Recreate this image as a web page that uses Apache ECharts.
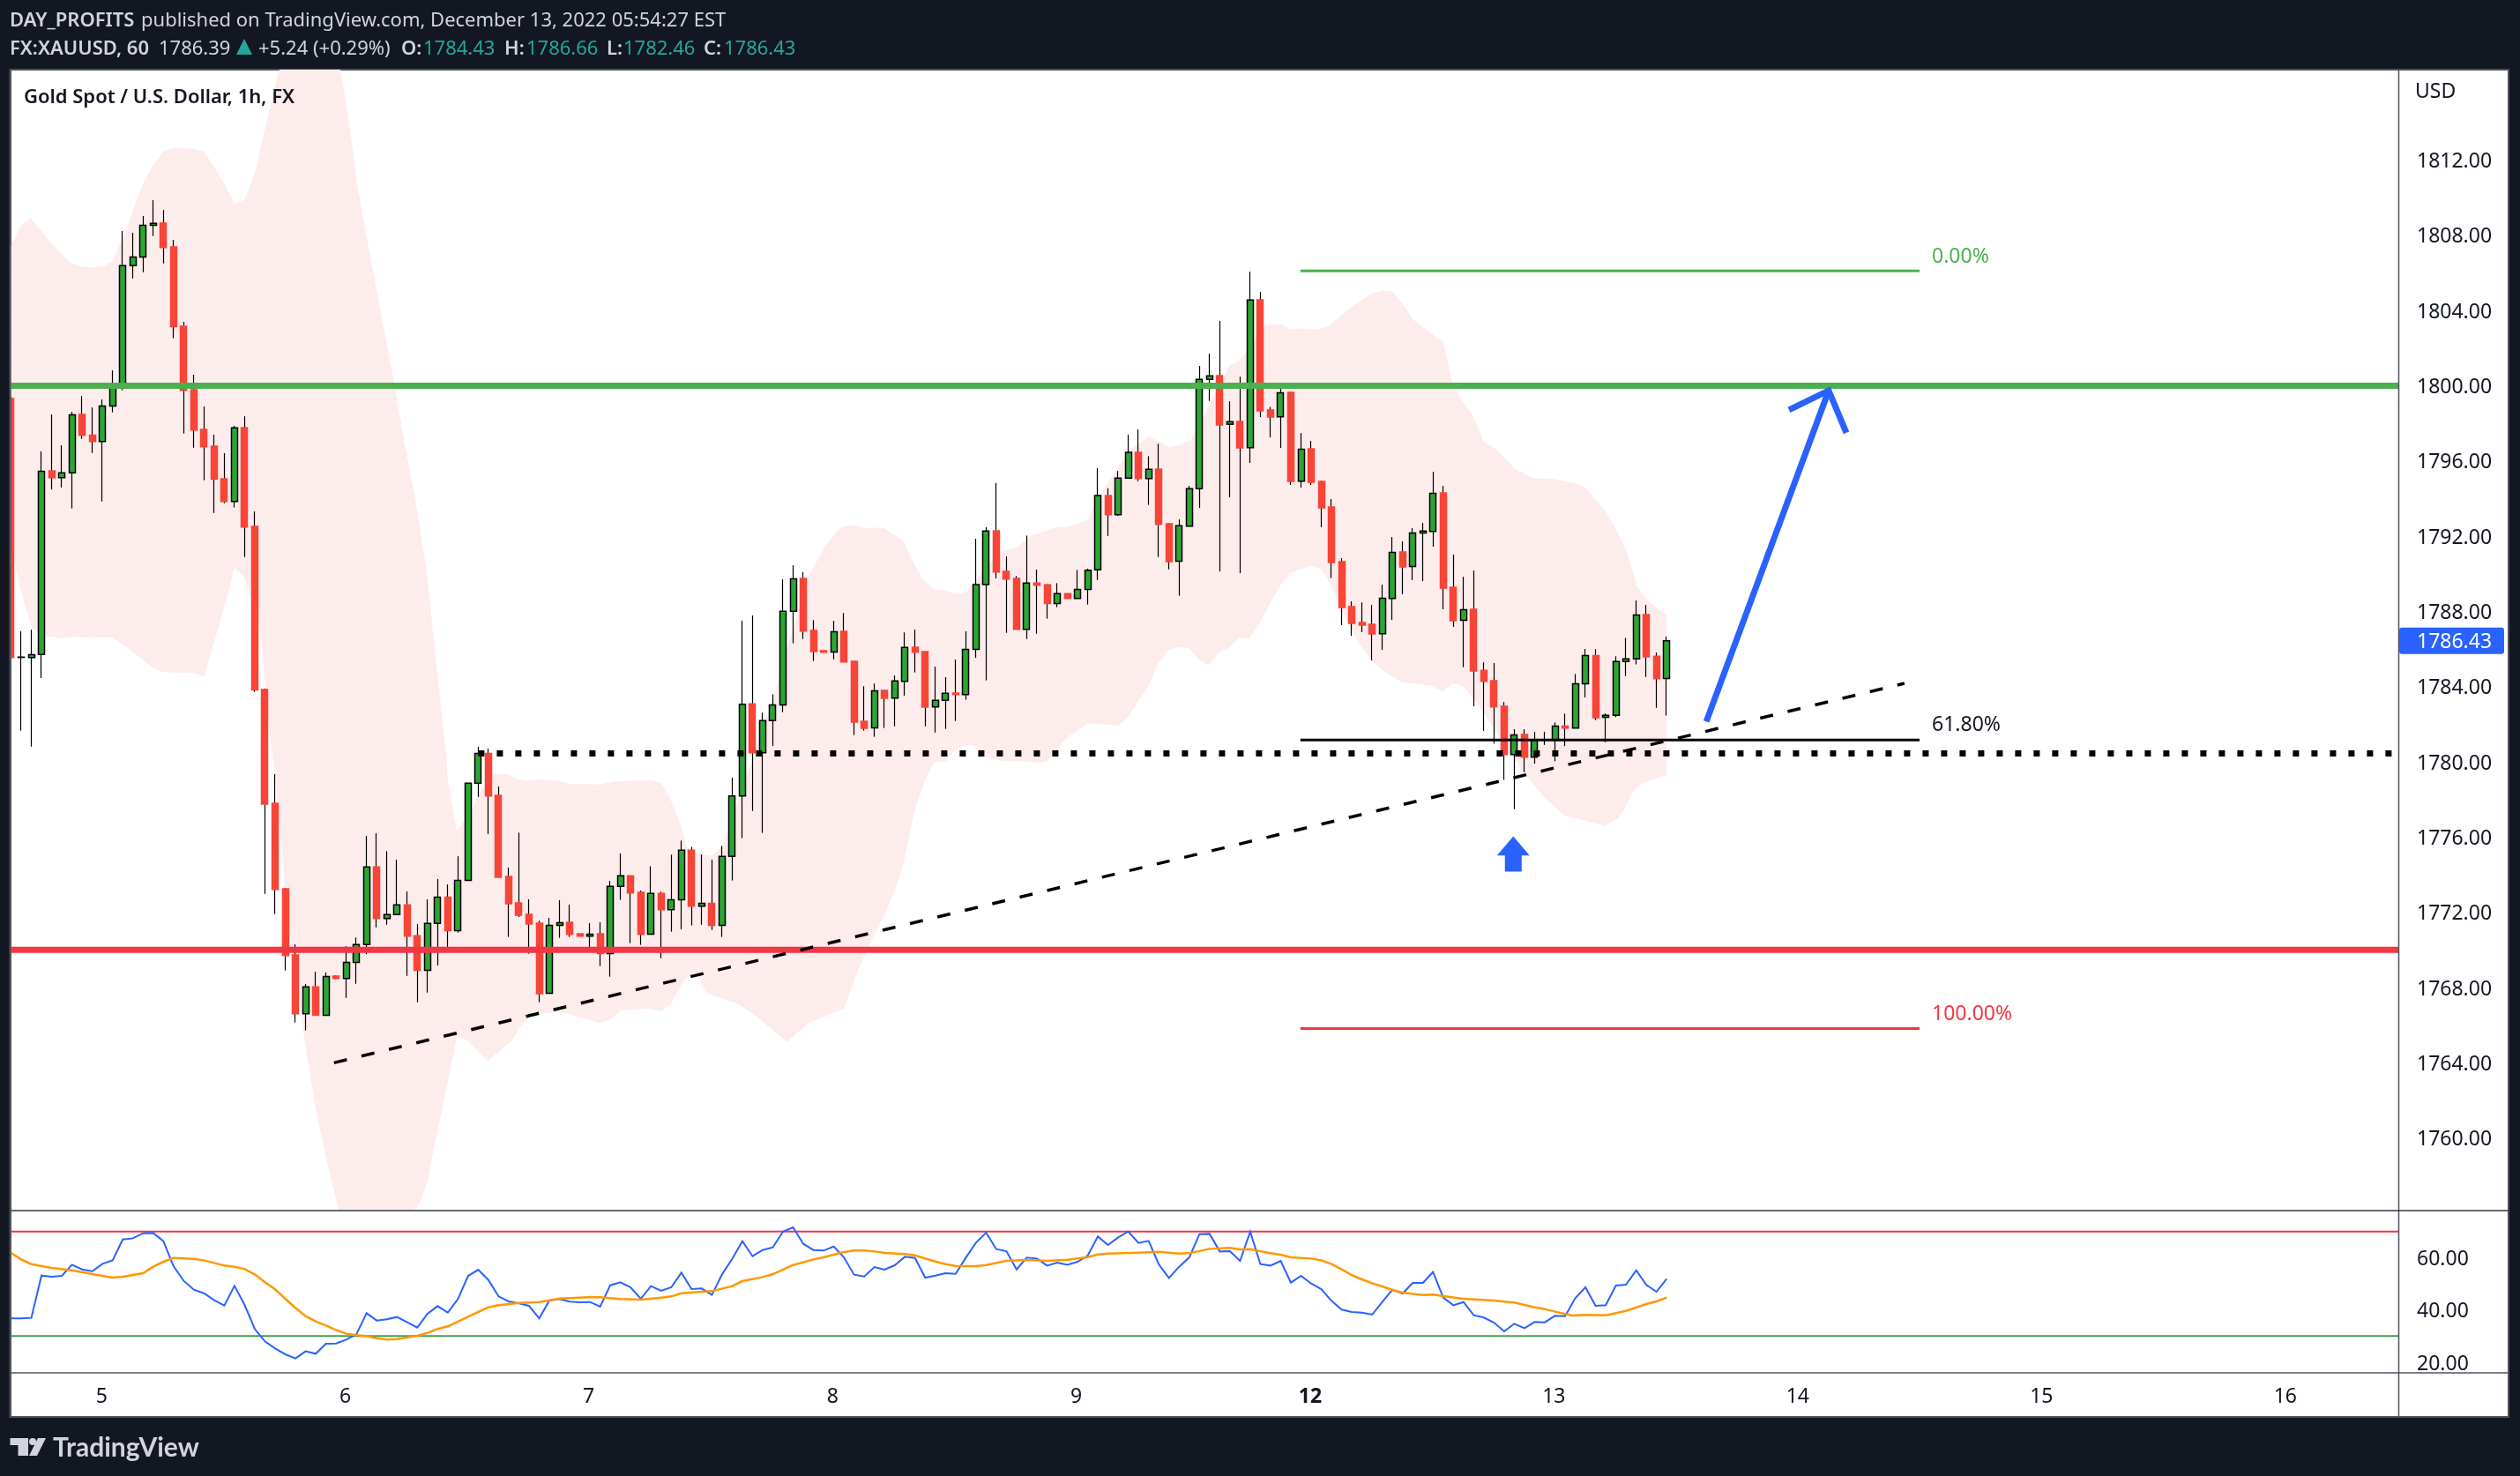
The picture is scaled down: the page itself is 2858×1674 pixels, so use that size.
<!DOCTYPE html>
<html><head><meta charset="utf-8">
<style>html,body{margin:0;padding:0;background:#131722}#c{width:2858px;height:1674px}</style>
<script src="https://cdn.jsdelivr.net/npm/echarts@6/dist/echarts.min.js"></script>
</head><body><div id="c"></div>
<script>
const opens=[
1799.31,1785.55,1785.55,1785.71,1795.47,1795.11,1795.36,1798.47,1797.37,1797.03,
1798.92,1800.00,1806.38,1806.84,1808.53,1808.64,1807.38,1803.16,1799.78,1797.67,
1796.78,1795.05,1793.84,1797.77,1792.52,1783.84,1777.80,1773.25,1769.73,1766.61,
1768.03,1766.52,1768.61,1768.48,1769.34,1770.28,1774.41,1771.67,1771.88,1772.39,
1770.75,1768.91,1771.41,1772.81,1771.02,1773.70,1778.86,1780.45,1778.22,1773.91,
1772.50,1771.89,1771.42,1767.69,1771.31,1771.47,1770.86,1770.73,1770.86,1769.80,
1773.38,1773.94,1773.06,1770.84,1773.00,1772.14,1772.67,1775.30,1772.33,1772.48,
1771.30,1774.97,1778.19,1783.08,1780.48,1782.19,1783.03,1788.00,1789.75,1786.98,
1785.91,1785.84,1786.94,1785.34,1782.16,1781.80,1783.80,1783.39,1784.28,1786.09,
1785.86,1782.92,1783.27,1783.66,1783.58,1785.98,1789.42,1792.28,1790.13,1789.75,
1787.05,1789.50,1789.41,1788.41,1788.94,1788.69,1789.16,1790.21,1794.16,1793.14,
1795.08,1796.45,1795.06,1795.56,1792.66,1790.66,1792.53,1794.52,1800.33,1800.53,
1797.94,1798.09,1796.70,1804.56,1798.70,1798.34,1799.64,1794.92,1796.64,1794.91,
1793.55,1790.64,1788.25,1787.41,1787.31,1786.81,1788.69,1791.16,1790.38,1792.17,
1792.25,1794.30,1789.28,1787.52,1788.11,1784.87,1784.31,1782.95,1780.39,1781.45,
1780.25,1781.15,1781.15,1781.90,1781.79,1784.15,1785.65,1782.37,1782.47,1785.33,
1785.47,1787.83,1785.61,1784.43];
const closes=[
1785.55,1785.57,1785.70,1795.45,1795.11,1795.36,1798.45,1797.36,1797.03,1798.92,
1800.00,1806.38,1806.84,1808.53,1808.63,1807.34,1803.13,1799.75,1797.64,1796.75,
1795.02,1793.84,1797.75,1792.48,1783.82,1777.75,1773.22,1769.70,1766.61,1768.03,
1766.52,1768.59,1768.48,1769.34,1770.28,1774.41,1771.67,1771.88,1772.39,1770.73,
1768.91,1771.41,1772.81,1771.02,1773.70,1778.86,1780.45,1778.19,1773.86,1772.45,
1771.84,1771.38,1767.67,1771.31,1771.45,1770.83,1770.73,1770.84,1769.80,1773.38,
1773.94,1773.03,1770.83,1773.00,1772.14,1772.67,1775.30,1772.33,1772.48,1771.30,
1774.97,1778.19,1783.06,1780.48,1782.19,1783.03,1788.00,1789.73,1786.95,1785.86,
1785.83,1786.92,1785.31,1782.11,1781.78,1783.78,1783.38,1784.30,1786.08,1785.83,
1782.91,1783.27,1783.64,1783.58,1785.98,1789.42,1792.27,1790.09,1789.72,1787.05,
1789.50,1789.39,1788.41,1788.94,1788.69,1789.16,1790.19,1794.16,1793.14,1795.08,
1796.45,1795.06,1795.55,1792.62,1790.64,1792.55,1794.52,1800.33,1800.52,1797.91,
1798.08,1796.69,1804.55,1798.66,1798.33,1799.62,1794.91,1796.62,1794.86,1793.50,
1790.59,1788.20,1787.36,1787.27,1786.80,1788.70,1791.14,1790.36,1792.17,1792.27,
1794.28,1789.23,1787.50,1788.09,1784.83,1784.28,1782.92,1780.39,1781.43,1780.25,
1781.15,1781.16,1781.90,1781.79,1784.15,1785.65,1782.34,1782.47,1785.33,1785.47,
1787.81,1785.58,1784.42,1786.43];
const lows=[
1785.50,1781.66,1780.81,1784.46,1794.48,1794.59,1793.47,1797.17,1796.42,1793.84,
1798.58,1799.75,1805.70,1806.03,1807.95,1806.50,1802.52,1797.45,1796.70,1794.97,
1793.23,1793.75,1793.52,1790.89,1783.72,1772.98,1771.91,1768.91,1766.14,1765.72,
1766.52,1766.52,1768.45,1767.45,1768.20,1769.77,1771.20,1771.34,1771.88,1768.62,
1767.22,1767.73,1769.17,1770.10,1770.92,1773.70,1778.13,1776.16,1773.86,1770.69,
1771.75,1769.80,1767.22,1767.69,1770.64,1770.69,1770.73,1770.16,1769.14,1768.58,
1772.66,1770.36,1770.27,1770.84,1769.56,1770.97,1771.09,1771.30,1771.34,1771.06,
1770.69,1773.69,1775.94,1777.39,1776.22,1780.84,1782.64,1786.30,1786.53,1785.36,
1785.83,1785.45,1785.31,1781.42,1781.66,1781.33,1781.80,1781.89,1783.52,1784.75,
1781.89,1781.56,1781.75,1782.17,1783.30,1785.53,1784.33,1789.75,1786.86,1787.05,
1786.53,1786.81,1787.61,1788.22,1788.69,1788.69,1788.36,1789.67,1792.01,1793.07,
1795.08,1794.92,1793.66,1790.89,1790.23,1788.83,1792.53,1793.50,1799.19,1790.12,
1794.06,1790.03,1795.89,1798.33,1797.25,1796.69,1794.72,1794.58,1794.72,1792.47,
1789.77,1787.27,1786.70,1786.89,1785.39,1785.95,1787.55,1788.91,1789.66,1789.61,
1791.44,1788.11,1787.17,1785.03,1782.95,1781.64,1780.97,1779.04,1777.48,1779.45,
1779.90,1780.90,1780.03,1780.84,1781.79,1783.42,1782.22,1781.04,1782.37,1784.56,
1785.18,1784.51,1782.87,1782.46];
const highs=[
1799.40,1786.94,1787.03,1796.50,1798.47,1796.83,1798.61,1799.45,1798.84,1799.27,
1800.81,1808.22,1808.13,1809.02,1809.86,1809.34,1807.75,1803.39,1800.58,1798.89,
1797.39,1796.41,1797.86,1798.37,1793.31,1783.90,1779.34,1773.28,1770.30,1768.19,
1768.84,1768.80,1768.65,1770.20,1770.66,1776.06,1776.20,1775.25,1774.80,1773.11,
1771.38,1772.69,1773.77,1773.48,1774.98,1778.86,1780.80,1780.70,1778.69,1774.38,
1776.23,1772.69,1771.56,1771.70,1772.64,1772.41,1770.86,1771.42,1771.47,1773.67,
1775.13,1773.96,1773.16,1774.45,1773.09,1775.06,1775.81,1775.48,1775.08,1774.80,
1775.53,1779.16,1787.50,1787.78,1782.61,1783.59,1789.70,1790.45,1790.08,1787.53,
1785.91,1787.50,1787.91,1785.34,1784.02,1784.16,1783.80,1784.59,1786.88,1787.03,
1785.86,1785.06,1784.50,1785.44,1786.94,1791.86,1792.48,1794.83,1790.92,1789.88,
1792.03,1790.22,1789.45,1789.50,1788.94,1790.20,1790.27,1795.61,1794.54,1795.46,
1797.39,1797.67,1796.25,1796.91,1792.70,1792.89,1794.67,1801.05,1801.70,1803.44,
1799.17,1800.48,1806.06,1804.98,1798.87,1799.84,1799.69,1797.48,1797.06,1794.95,
1793.97,1790.83,1788.53,1788.48,1788.34,1789.42,1791.95,1791.72,1792.42,1792.70,
1795.42,1794.67,1791.02,1789.84,1790.17,1785.29,1785.25,1783.18,1781.73,1781.73,
1781.59,1781.60,1782.09,1782.56,1784.67,1786.00,1786.00,1782.58,1785.61,1786.59,
1788.58,1788.34,1785.81,1786.66];

const bandUpperX=[0,1,1.9,3.9,5.75,7.1,8,9.2,10,11.55,12.9,13.9,15,16,17.9,19,20.2,21,22,23,24.1,25,25.8,26.4,27.5,29,30.5,31.5,32.45,33.1,34.1,35,35.75,36.8,37.7,38.9,39.7,40.9,41.55,42.1,42.85,43,43.9,45.35,45.94,47.35,48.1,48.9,49.8,50.85,52,53.9,55,57.9,59.7,62.9,64,65,66,66.5,68,69,70,70.4,75.2,78.3,80.1,81.4,81.9,83,84,85.9,87.8,88.8,89.8,90.9,91.9,92.9,94,97.2,99,100.6,103,104,106,107,110.1,112,113,114,115.1,116.2,120,121,123.5,125,126,127.2,128.8,129.8,132,134,135.1,136,137,138,140,141,141.9,142.7,144,145,146.1,148.1,149.8,151.9,154,155,155.9,157,158.2,159.2,160.1,161.2,163];
const bandUpper=[1807.45,1808.54,1808.92,1807.62,1806.56,1806.31,1806.28,1806.36,1806.61,1808.62,1810.63,1811.64,1812.47,1812.64,1812.59,1812.44,1811.47,1810.71,1809.68,1809.88,1811.47,1813.64,1815.49,1816.74,1820,1823.5,1822,1819,1816.74,1814.65,1810.63,1807.95,1805.78,1802.76,1800.17,1796.48,1794.26,1790.24,1786.89,1784.05,1780.36,1779.02,1776.33,1777.38,1778.16,1779.33,1779.36,1779.36,1779.09,1779.0,1779.06,1779.0,1778.83,1778.81,1778.97,1779.02,1778.91,1777.92,1776.52,1775.5,1775.08,1775.0,1775.5,1775.97,1783.71,1789.64,1791.44,1792.32,1792.52,1792.57,1792.43,1792.45,1791.78,1790.64,1789.67,1789.17,1789.13,1788.92,1789.0,1791.14,1791.4,1792.06,1792.48,1792.48,1792.87,1794.0,1796.58,1797.29,1797.04,1796.72,1796.84,1797.14,1801.1,1801.36,1803.2,1803.28,1803.0,1803.03,1802.98,1803.2,1804.2,1804.92,1805.07,1805.0,1804.37,1803.53,1802.7,1802.33,1800.18,1799.35,1798.34,1797.0,1796.67,1795.58,1795.08,1795.04,1794.83,1794.58,1793.99,1793.32,1792.15,1790.98,1789.3,1788.55,1787.76];
const bandLowerX=[0,0.4,1,2.1,3.4,5,6,7.9,10,12.1,13.9,15,17.9,19,21,22,23,23.7,24.4,25.4,26,26.7,27.1,27.7,28.1,28.9,30,31.55,32.3,33,36,39,39.6,40.15,41,41.6,43.2,43.9,44.9,46.9,49.3,50.3,51.3,53.9,55.3,57.9,58.95,60,61.1,62.9,64,65,66,66.6,67.5,68.5,71.7,73.3,75.3,76.4,78.5,82,83.4,84.7,85.9,87,87.9,88.9,89.9,90.9,92,92.9,93.9,94.8,95.8,97.8,99.9,101,102,102.8,103.9,106,108,109,110,110.9,111.7,112.3,112.9,113.9,114.9,115.95,117,117.9,118.8,120,120.9,121.9,122.9,124.9,125.9,127.9,129,130,131,132.7,134,135,137,137.8,139.8,140.9,141.9,142.9,143.8,144.9,146.2,149.3,150.9,152.9,154.9,156.8,158.2,158.8,159.8,160.8,162.9,163];
const bandLower=[1793,1790.58,1789,1787.06,1786.69,1786.56,1786.64,1786.61,1786.61,1785.8,1785.02,1784.77,1784.72,1784.55,1788.23,1790.32,1789.82,1788.57,1787.69,1781.75,1779.25,1775.19,1772.06,1770.19,1768.47,1765.19,1761.5,1757.68,1756.14,1755,1753,1755.2,1756.14,1756.43,1757.68,1759.4,1763.5,1765.4,1765.19,1764.1,1765.19,1766.05,1766.52,1766.72,1766.52,1766.12,1766.28,1766.75,1766.83,1766.87,1766.75,1767.14,1768.16,1768.62,1768.78,1767.7,1767.1,1766.5,1765.6,1765.1,1766.1,1766.9,1768.94,1770.5,1771.75,1773.16,1774.64,1777.3,1778.94,1779.98,1780.03,1780.58,1780.89,1780.89,1780.27,1780.03,1780.03,1779.95,1780.03,1780.58,1781.28,1782.03,1781.98,1781.91,1782.4,1783.16,1783.78,1784.41,1785.19,1785.89,1786.09,1786.05,1785.42,1785.14,1785.78,1786.12,1786.59,1786.53,1787.37,1789.33,1790.03,1790.42,1790.27,1789.33,1788.08,1786.29,1785.37,1784.87,1784.2,1784.17,1784.06,1783.73,1784.17,1784.06,1783.47,1782.68,1781.59,1779.17,1778.15,1777.14,1776.9,1776.59,1776.98,1777.45,1778.54,1778.9,1779.28,1779.28];

const rsiValues=[
36.74,36.74,36.97,53.15,52.7,53.03,57.3,55.5,54.83,57.64,
58.99,66.97,67.42,69.33,69.44,66.29,56.74,51.12,47.75,46.4,
43.7,41.69,49.21,41.91,32.7,27.98,25.28,23.03,21.46,24.16,
23.26,27.08,27.19,28.65,30.67,38.76,35.96,36.4,37.3,35.28,
33.26,38.54,41.46,38.99,44.16,53.03,55.39,51.46,45.17,43.26,
42.47,41.57,36.74,43.6,44.16,43.15,42.92,43.03,41.24,49.44,
50.56,48.65,44.27,49.1,47.3,48.65,54.27,47.98,48.2,45.73,
53.6,59.55,66.29,60.56,62.92,63.93,70,71.57,65.28,62.92,
62.7,64.27,60.11,53.48,52.81,56.4,55.39,57.08,60.34,59.89,
52.36,53.15,54.04,53.82,60,65.73,69.55,63.26,62.47,55.51,
60,59.66,56.97,58.09,57.3,58.43,60.79,68.09,64.83,67.75,
70,65.62,66.4,57.42,52.25,56.52,60.11,68.99,69.1,62.36,
62.47,58.76,69.89,57.53,56.97,58.76,50.45,53.03,50.11,47.98,
43.48,40.11,39.21,38.99,38.2,43.03,47.75,46.29,50.34,50.34,
54.49,44.72,41.8,43.03,37.98,37.08,35.17,31.8,34.72,33.03,
35.39,35.28,37.75,37.64,44.49,48.65,41.57,41.8,49.33,49.66,
55.17,49.55,46.97,51.91];
const rsiMaX=[0,1,2,4,6,8,10,11,13,14,15,16,18,19,21,22,23,24,25,26,27,28,29,30,31,32,33,34,35,36,37,38,40,41,42,43,44,45,46,47,48,49,50,52,53,54,56,57,58,60,62,64,65,66,68,69,71,72,74,75,77,79,80,82,83,84,85,86,88,89,91,92,93,95,96,98,100,102,104,106,107,108,111,113,115,116,118,120,121,122,124,125,126,128,129,130,131,132,133,134,135,136,137,139,140,141,143,146,147,148,150,151,152,153.7,155,157,159,161,162,163];
const rsiMa=[61.8,59.33,57.53,56.07,55.17,53.71,52.36,52.7,54.04,56.52,58.43,59.89,59.55,58.99,56.97,56.52,55.62,53.6,50.56,47.87,44.27,40.79,37.64,35.62,34.04,32.36,30.9,30.34,30,29.21,28.65,28.88,30.11,31.24,32.7,33.71,35.51,37.42,39.21,41.01,41.8,42.25,42.7,43.03,43.7,44.38,44.72,44.94,44.83,44.16,43.93,44.72,45.17,46.4,46.97,47.19,49.1,51.01,52.58,53.71,57.19,59.33,60.11,62.13,62.7,62.7,62.36,61.8,61.35,60.9,58.54,57.53,56.85,56.74,57.19,58.76,59.1,58.76,59.21,60.22,61.24,61.57,61.91,62.25,61.57,61.69,63.37,63.71,63.15,63.26,61.69,61.12,60.11,59.66,58.99,57.53,55.51,53.37,51.69,50.22,48.99,47.64,46.63,45.73,45.84,45.28,44.27,43.6,43.15,42.81,41.01,40.34,39.33,37.87,38.09,37.98,39.66,42.25,43.26,44.72];

const priceTicks=[1760,1764,1768,1772,1776,1780,1784,1788,1792,1796,1800,1804,1808,1812];
const rsiTicks=[20,40,60];
const dayTicks=[8.93,32.91,56.87,80.9,104.88,127.9,151.9,175.9,199.9,223.9];
const dayLabels=['5','6','7','8','9','12','13','14','15','16'];

const resistance=1800, support=1770, swingLevel=1780.45;
const fibHigh=1806.1, fib618=1781.16, fibLow=1765.82;
const xMin=-0.043, xMax=235.03;
const trendLine=[[31.8,1764.0],[186.4,1784.17]];
const arrowLine=[[166.9,1782.14],[178.95,1799.74]];
const arrowHead=[[175.04,1798.71],[178.95,1799.74],[180.69,1797.49]];
const upMark=[147.9,1775.1];
const fibStart=126.94, fibEnd=187.9, swingStart=46;

const BLUE='#2962FF',GREEN='#4CAF50',RED='#F23645',UP='#2CA534',DOWN='#F74538';
const TXT='"Noto Sans",sans-serif';

const wickRows=opens.map((o,i)=>[i,o,closes[i],lows[i],highs[i]]);
const bodyRows=opens.map((o,i)=>[i,o,closes[i],Math.min(o,closes[i]),Math.max(o,closes[i])]);
const bandPoly=bandUpperX.map((x,i)=>[x,bandUpper[i]]).concat(bandLowerX.map((x,i)=>[x,bandLower[i]]).reverse());

function seg(name,data,color,width,type,z,ax){
  return {name,type:'line',data,xAxisIndex:ax||0,yAxisIndex:ax||0,symbol:'none',silent:true,z:z||6,
    lineStyle:{color,width,type:type||'solid',cap:'butt',join:'miter'}};
}
const chart=echarts.init(document.getElementById('c'),null,{renderer:'canvas'});

const DY=1.8;
function text(t,x,y,font,fill){
  return {type:'text',z:50,silent:true,style:{text:t,x,y:y+DY,font,fill,verticalAlign:'middle'}};
}
const hdr='22px '+TXT, hdrB='600 22px '+TXT, LT='#D1D4DC', TEAL='#26A69A';
const graphics=[
  {type:'rect',z:0,silent:true,shape:{x:12,y:79,width:2833,height:1528},style:{fill:'#fff',stroke:'#50535E',lineWidth:2}},
  {type:'rect',z:45,silent:true,shape:{x:0,y:70,width:11,height:1545},style:{fill:'#131722'}},
  {type:'line',z:46,silent:true,shape:{x1:11.5,y1:78,x2:11.5,y2:1608},style:{stroke:'#50535E',lineWidth:2}},
  {type:'line',z:40,silent:true,shape:{x1:2720.5,y1:79,x2:2720.5,y2:1607},style:{stroke:'#50535E',lineWidth:1.5}},
  {type:'line',z:40,silent:true,shape:{x1:12,y1:1373,x2:2845,y2:1373},style:{stroke:'#363A45',lineWidth:1.5}},
  {type:'line',z:40,silent:true,shape:{x1:12,y1:1557,x2:2845,y2:1557},style:{stroke:'#50535E',lineWidth:1.5}},
  text('DAY_PROFITS',11,22,hdrB,LT),
  text('published on TradingView.com, December 13, 2022 05:54:27 EST',160,22,hdr,LT),
  text('FX:XAUUSD, 60',11,53.5,hdrB,LT),
  text('1786.39',180,53.5,hdr,LT),
  {type:'polygon',z:50,silent:true,shape:{points:[[277,44],[286,62],[268,62]]},style:{fill:TEAL}},
  text('+5.24 (+0.29%)',293,53.5,hdr,LT),
  text('O:',455,53.5,hdrB,LT),text('1784.43',480,53.5,hdr,TEAL),
  text('H:',572,53.5,hdrB,LT),text('1786.66',597,53.5,hdr,TEAL),
  text('L:',688,53.5,hdrB,LT),text('1782.46',707,53.5,hdr,TEAL),
  text('C:',798,53.5,hdrB,LT),text('1786.43',821,53.5,hdr,TEAL),
  text('Gold Spot / U.S. Dollar, 1h, FX',27,109,'600 22px '+TXT,'#131722'),
  text('USD',2739,103,'23px '+TXT,'#131722'),
  text('0.00%',2191,290,'23px '+TXT,GREEN),
  text('61.80%',2191,821,'23px '+TXT,'#131722'),
  text('100.00%',2191,1149,'23px '+TXT,RED),
  {type:'polygon',z:50,silent:true,shape:{points:[[11.5,1631],[32,1631],[32,1651],[20.5,1651],[20.5,1639],[11.5,1639]]},style:{fill:LT}},
  {type:'circle',z:50,silent:true,shape:{cx:37,cy:1635,r:4},style:{fill:LT}},
  {type:'polygon',z:50,silent:true,shape:{points:[[43,1631],[52,1631],[42,1651],[33,1651]]},style:{fill:LT}},
  text('TradingView',60,1641,'700 30px Lato,'+TXT,LT)
];
const yLabel={margin:21,fontSize:23,fontFamily:TXT,color:'#131722',formatter:v=>'{a|'+v.toFixed(2)+'}',
  rich:{a:{fontSize:23,fontFamily:TXT,color:'#131722',padding:[4,0,0,0]}}};

chart.setOption({
  animation:false,
  backgroundColor:'#131722',
  grid:[
    {left:12,top:79,width:2708,height:1294,containLabel:false},
    {left:12,top:1373,width:2708,height:184,containLabel:false}
  ],
  xAxis:[
    {type:'value',gridIndex:0,min:xMin,max:xMax,axisLabel:{show:false},axisTick:{show:false},axisLine:{show:false},splitLine:{show:false}},
    {type:'value',gridIndex:1,min:xMin,max:xMax,axisTick:{show:false},axisLine:{show:false},splitLine:{show:false},
     axisLabel:{customValues:dayTicks,margin:16,fontSize:23,fontFamily:TXT,color:'#131722',
       hideOverlap:false,
       formatter:v=>{const k=dayTicks.findIndex(d=>Math.abs(d-v)<0.01);const s=k<0?'':dayLabels[k];return s==='12'?'{b|12}':s;},
       rich:{b:{fontWeight:'bold',fontSize:23,fontFamily:TXT,color:'#131722'}}}}
  ],
  yAxis:[
    {type:'value',gridIndex:0,position:'right',min:1756.14,max:1816.8,axisTick:{show:false},axisLine:{show:false},splitLine:{show:false},
     axisLabel:Object.assign({customValues:priceTicks},yLabel)},
    {type:'value',gridIndex:1,position:'right',min:15.94,max:78,axisTick:{show:false},axisLine:{show:false},splitLine:{show:false},
     axisLabel:Object.assign({customValues:rsiTicks},yLabel)}
  ],
  graphic:{elements:graphics},
  series:[
    {name:'Band',type:'custom',xAxisIndex:0,yAxisIndex:0,clip:true,silent:true,z:1,data:bandPoly,
     encode:{x:0,y:1},
     renderItem:(p,api)=>p.dataIndex!==0?null:{type:'polygon',shape:{points:bandPoly.map(q=>api.coord(q))},style:{fill:'#FDECEC'}}},
    {name:'Wicks',type:'candlestick',xAxisIndex:0,yAxisIndex:0,silent:true,z:2,barWidth:1,data:wickRows,
     itemStyle:{color:'#000',color0:'#000',borderColor:'#000',borderColor0:'#000',borderWidth:1.2}},
    {name:'Bodies',type:'candlestick',xAxisIndex:0,yAxisIndex:0,silent:true,z:3,barWidth:7.5,data:bodyRows,
     itemStyle:{color:UP,color0:DOWN,borderColor:'#000',borderColor0:DOWN,borderWidth:1.5}},
    seg('Resistance',[[xMin,resistance],[xMax,resistance]],GREEN,7,'solid',5),
    seg('Support',[[xMin,support],[xMax,support]],RED,7,'solid',5),
    seg('Swing',[[swingStart,swingLevel],[xMax,swingLevel]],'#000',7,[7,14],6),
    seg('Trend',trendLine,'#000',3.5,[15,17],6),
    seg('Fib0',[[fibStart,fibHigh],[fibEnd,fibHigh]],GREEN,3,'solid',6),
    seg('Fib618',[[fibStart,fib618],[fibEnd,fib618]],'#000',3,'solid',6),
    seg('Fib100',[[fibStart,fibLow],[fibEnd,fibLow]],RED,3,'solid',6),
    seg('Arrow',arrowLine,BLUE,7,'solid',7),
    seg('ArrowHead',arrowHead,BLUE,7,'solid',7),
    {name:'Up',type:'scatter',xAxisIndex:0,yAxisIndex:0,silent:true,z:7,data:[upMark],symbolSize:[37,40],
     symbol:'path://M18.5 0L37 21.7L28 21.7L28 40L9 40L9 21.7L0 21.7Z',itemStyle:{color:BLUE,opacity:1}},
    seg('RSI70',[[xMin,70],[xMax,70]],RED,2,'solid',3,1),
    seg('RSI30',[[xMin,30],[xMax,30]],'#43A047',2,'solid',3,1),
    seg('RSI',rsiValues.map((v,i)=>[i,v]),BLUE,2,'solid',4,1),
    seg('RSI MA',rsiMaX.map((x,i)=>[x,rsiMa[i]]),'#FF9800',2.5,'solid',5,1)
  ]
});
const tagY=chart.convertToPixel({yAxisIndex:0},closes[closes.length-1]);
chart.setOption({graphic:{elements:graphics.concat([
  {type:'rect',z:45,silent:true,shape:{x:2721,y:tagY-15,width:119,height:30,r:3},style:{fill:BLUE}},
  text(closes[closes.length-1].toFixed(2),2741,tagY,'23px '+TXT,'#fff')
])}});
</script></body></html>
